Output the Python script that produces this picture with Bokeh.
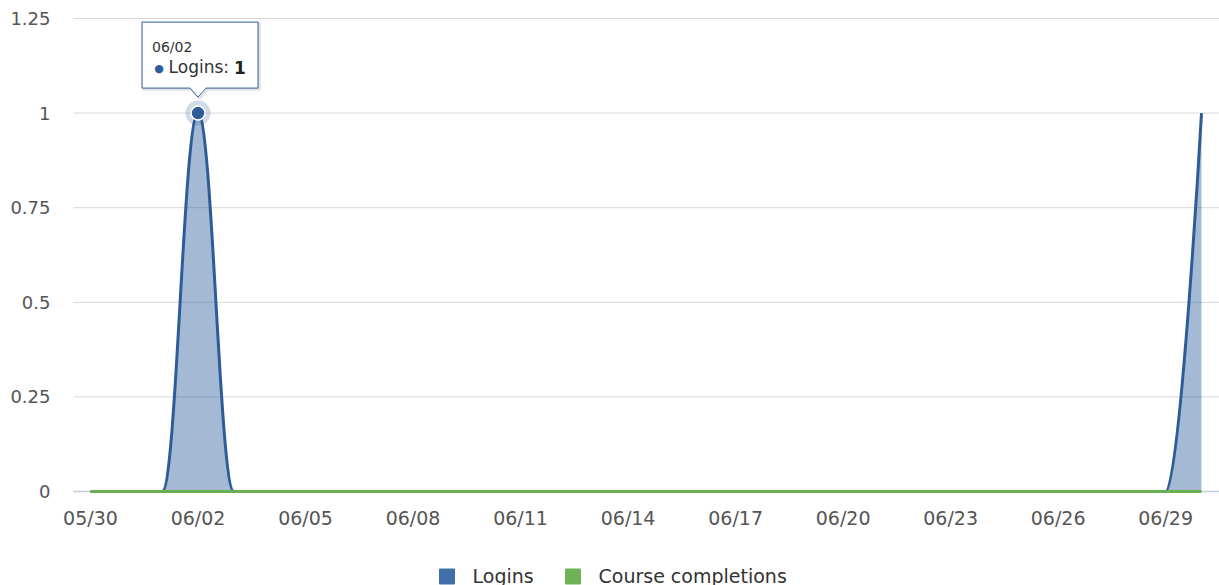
import numpy as np
import pandas as pd
from bokeh.plotting import figure
from bokeh.models import Range1d, FixedTicker
from bokeh.core.properties import value
from bokeh.embed import file_html
from bokeh.resources import INLINE

# ---------------- data ----------------
dates = [d.strftime("%m/%d") for d in pd.date_range("2024-05-30", "2024-06-30", freq="D")]
logins = [0, 0, 0, 1, 0, 0, 0, 0, 0, 0, 0, 0, 0, 0, 0, 0,
          0, 0, 0, 0, 0, 0, 0, 0, 0, 0, 0, 0, 0, 0, 0, 1]
completions = [0, 0, 0, 0, 0, 0, 0, 0, 0, 0, 0, 0, 0, 0, 0, 0,
               0, 0, 0, 0, 0, 0, 0, 0, 0, 0, 0, 0, 0, 0, 0, 0]
series_names = ["Logins", "Course completions"]
x_tick_labels = ["05/30", "06/02", "06/05", "06/08", "06/11", "06/14",
                 "06/17", "06/20", "06/23", "06/26", "06/29"]
y_ticks = [0, 0.25, 0.5, 0.75, 1, 1.25]
y_tick_labels = ["0", "0.25", "0.5", "0.75", "1", "1.25"]
tooltip_date = "06/02"

# ---------------- style ----------------
LOGIN_LINE = "#2D5C99"
LOGIN_FILL = "#2D5C99"
LOGIN_SWATCH = "#4170A9"
COMP_LINE = "#6CAE52"
COMP_SWATCH = "#70B256"
FONT = "DejaVu Sans"
TICK_COLOR = "#555555"

W, H = 1219, 585
ML, MR, MT, MB = 60, 0, 17, 0
FW, FH = W - ML - MR, H - MT - MB
PLOT_LEFT_PX = 73                  # where grid lines / axis line start
TOP_PX, ZERO_PX = 18, 491          # pixel rows of the top tick and of 0
FIRST_PX, LAST_PX = 90, 1201       # pixel columns of first and last date

ppd = (LAST_PX - FIRST_PX) / (len(dates) - 1)
kx = 1.0 / ppd
x0 = -(FIRST_PX - ML) * kx
x1 = x0 + FW * kx
ky = y_ticks[-1] / (ZERO_PX - TOP_PX)
y1 = y_ticks[-1] + (TOP_PX - MT) * ky
y0 = y1 - FH * ky


def px_to_data(px, py):
    return x0 + (px - ML) * kx, y1 - (py - MT) * ky


p = figure(width=W, height=H, x_range=Range1d(x0, x1), y_range=Range1d(y0, y1),
           output_backend="svg", toolbar_location=None, x_axis_location=None,
           min_border_left=ML, min_border_right=MR, min_border_top=MT,
           min_border_bottom=MB)
p.outline_line_color = None
p.background_fill_color = "white"
p.border_fill_color = "white"


def spline_segments(px_, py_, smoothing=1.5):
    """Highcharts-style spline control points."""
    n = len(px_)
    left = [None] * n
    right = [None] * n
    for i in range(1, n - 1):
        cx, cy = px_[i], py_[i]
        lx, ly = px_[i - 1], py_[i - 1]
        nx, ny = px_[i + 1], py_[i + 1]
        d = smoothing + 1
        lcx, lcy = (smoothing * cx + lx) / d, (smoothing * cy + ly) / d
        rcx, rcy = (smoothing * cx + nx) / d, (smoothing * cy + ny) / d
        if rcx != lcx:
            corr = ((rcy - lcy) * (rcx - cx)) / (rcx - lcx) + cy - rcy
            lcy += corr
            rcy += corr
        if lcy > max(ly, cy):
            lcy = max(ly, cy); rcy = 2 * cy - lcy
        elif lcy < min(ly, cy):
            lcy = min(ly, cy); rcy = 2 * cy - lcy
        if rcy > max(cy, ny):
            rcy = max(cy, ny); lcy = 2 * cy - rcy
        elif rcy < min(cy, ny):
            rcy = min(cy, ny); lcy = 2 * cy - rcy
        left[i] = (lcx, lcy)
        right[i] = (rcx, rcy)
    segs = []
    for i in range(1, n):
        c0 = right[i - 1] or (px_[i - 1], py_[i - 1])
        c1 = left[i] or (px_[i], py_[i])
        segs.append((px_[i - 1], py_[i - 1], c0[0], c0[1], c1[0], c1[1], px_[i], py_[i]))
    return segs


def area_polygon(segs):
    t = np.linspace(0, 1, 30)
    ax, ay = [], []
    for (a, b, c, d, e, f, g, h) in segs:
        bx = (1 - t) ** 3 * a + 3 * (1 - t) ** 2 * t * c + 3 * (1 - t) * t ** 2 * e + t ** 3 * g
        by = (1 - t) ** 3 * b + 3 * (1 - t) ** 2 * t * d + 3 * (1 - t) * t ** 2 * f + t ** 3 * h
        ax.extend(bx); ay.extend(by)
    ax = ax + [segs[-1][6], segs[0][0]]
    ay = ay + [0, 0]
    return ax, ay


# ---------------- grid / axes ----------------
p.xgrid.grid_line_color = None
p.ygrid.grid_line_color = None
gx0, _ = px_to_data(PLOT_LEFT_PX, 0)
p.segment(x0=[gx0] * len(y_ticks), y0=y_ticks, x1=[x1] * len(y_ticks), y1=y_ticks,
          line_color="#D8D8D8", line_width=1)
# x axis line (under the series, as in the original)
p.segment(x0=[gx0], y0=[0], x1=[x1], y1=[0], line_color="#C0D0E0", line_width=1.5)


def draw_series(vals, line_color, fill_color, fill_alpha, lw):
    segs = spline_segments(xs, vals)
    ax, ay = area_polygon(segs)
    p.patch(ax, ay, fill_color=fill_color, fill_alpha=fill_alpha, line_color=None)
    cols = list(zip(*segs))
    p.bezier(x0=list(cols[0]), y0=list(cols[1]), cx0=list(cols[2]), cy0=list(cols[3]),
             cx1=list(cols[4]), cy1=list(cols[5]), x1=list(cols[6]), y1=list(cols[7]),
             line_color=line_color, line_width=lw)


xs = list(range(len(dates)))
draw_series(logins, LOGIN_LINE, LOGIN_FILL, 0.43, 3)
draw_series(completions, COMP_LINE, COMP_LINE, 0.4, 3)

# x tick labels, placed at the tick dates on the x scale
tick_pos = [dates.index(t) for t in x_tick_labels]
p.text(x=tick_pos, y=[0] * len(tick_pos), text=x_tick_labels, y_offset=26,
       text_align="center", text_baseline="middle", text_font=value(FONT),
       text_font_size="19px", text_color=TICK_COLOR)

p.yaxis.ticker = FixedTicker(ticks=y_ticks)
p.yaxis.major_label_overrides = {float(v): lab for v, lab in zip(y_ticks, y_tick_labels)}
p.yaxis.axis_line_color = None
p.yaxis.major_tick_line_color = None
p.yaxis.minor_tick_line_color = None
p.yaxis.major_tick_out = 0
p.yaxis.major_tick_in = 0
p.yaxis.major_label_standoff = ML - 50
p.yaxis.major_label_text_font = FONT
p.yaxis.major_label_text_font_size = "18px"
p.yaxis.major_label_text_color = TICK_COLOR

# ---------------- tooltip (static) ----------------
ti = dates.index(tooltip_date)
tx, ty = xs[ti], logins[ti]


def off(dx, dy):
    return tx + dx * kx, ty + dy * ky


p.scatter([tx], [ty], size=25, fill_color=LOGIN_LINE, fill_alpha=0.22, line_color=None)
p.scatter([tx], [ty], size=14, fill_color=LOGIN_LINE, line_color="white", line_width=1.5)

box = [(-56, 25), (-8, 25), (0, 16), (8, 25), (60, 25), (60, 91), (-56, 91)]
sh = [off(dx + 1.5, dy - 1.5) for dx, dy in box]
p.patch([a for a, b in sh], [b for a, b in sh], fill_color=None,
        line_color="black", line_alpha=0.10, line_width=3)
bp = [off(dx, dy) for dx, dy in box]
p.patch([a for a, b in bp], [b for a, b in bp], fill_color="white", fill_alpha=0.92,
        line_color=LOGIN_LINE, line_width=1)

p.text([tx], [ty], text=[tooltip_date], x_offset=-46, y_offset=-66,
       text_align="left", text_baseline="middle", text_font=value(FONT),
       text_font_size="14px", text_color="#333333")
p.text([tx], [ty], text=["\u25cf"], x_offset=-39, y_offset=-45,
       text_align="center", text_baseline="middle", text_font=value(FONT),
       text_font_size="11px", text_color=LOGIN_LINE)
p.text([tx], [ty], text=[series_names[0] + ":"], x_offset=31, y_offset=-46,
       text_align="right", text_baseline="middle", text_font=value(FONT),
       text_font_size="17px", text_color="#333333")
p.text([tx], [ty], text=[str(ty)], x_offset=36, y_offset=-46,
       text_align="left", text_baseline="middle", text_font=value(FONT),
       text_font_size="17px", text_font_style="bold", text_color="#222222")

# ---------------- legend (below the axis) ----------------
sw_px = [446.5, 572.5]
lab_px = [472, 598]
leg_py = 576
sw_pts = [px_to_data(px, leg_py) for px in sw_px]
lab_pts = [px_to_data(px, leg_py - 1) for px in lab_px]
p.scatter([a for a, b in sw_pts], [b for a, b in sw_pts], marker="square", size=15,
          fill_color=[LOGIN_SWATCH, COMP_SWATCH], line_color=[LOGIN_SWATCH, COMP_SWATCH])
p.text([a for a, b in lab_pts], [b for a, b in lab_pts], text=series_names,
       text_align="left", text_baseline="middle", text_font=value(FONT),
       text_font_size="19px", text_color="#333333")

open("out.html", "w").write(file_html(p, INLINE))
